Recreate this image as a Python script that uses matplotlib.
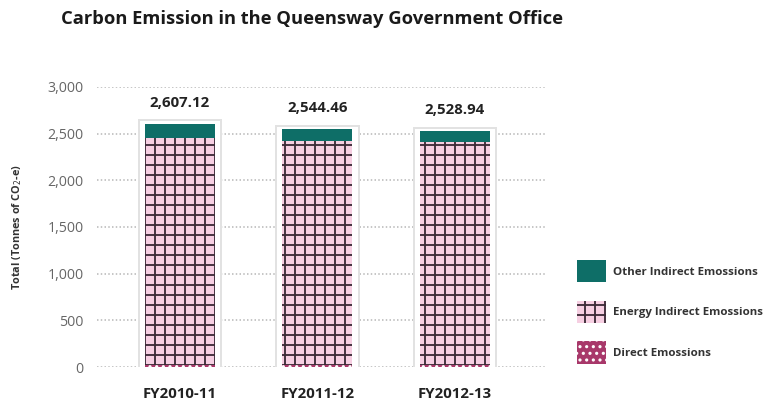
import matplotlib.pyplot as plt
import matplotlib.patches as mpatches
from matplotlib.ticker import FuncFormatter

years = ["FY2010-11", "FY2011-12", "FY2012-13"]
direct = [25, 25, 25]
energy_indirect = [2432, 2400, 2390]
totals = [2607.12, 2544.46, 2528.94]
other_indirect = [t - d - e for t, d, e in zip(totals, direct, energy_indirect)]
legend_labels = ["Other Indirect Emossions", "Energy Indirect Emossions", "Direct Emossions"]

TEAL = "#0e6e67"
PINK = "#f6cfe2"
GRIDC = "#3b2a36"
DIRECT = "#a8386a"

plt.rcParams['font.family'] = ['Open Sans', 'DejaVu Sans']
plt.rcParams['hatch.linewidth'] = 1.1

fig = plt.figure(figsize=(776 / 120, 403 / 120), dpi=120)
ax = fig.add_axes([0.125, 0.0893, 0.577, 0.695])

x = list(range(len(years)))

# white framing box behind each bar
ax.bar(x, [t + 70 for t in totals], width=0.6, bottom=-35, color="white",
       edgecolor="#e2e2e2", linewidth=1.2, zorder=2)

ax.bar(x, direct, width=0.51, color=DIRECT, edgecolor="white", hatch="...",
       linewidth=0, zorder=3)
ax.bar(x, energy_indirect, width=0.51, bottom=direct, color=PINK,
       edgecolor=GRIDC, hatch="++", linewidth=0, zorder=3)
bottoms = [d + e for d, e in zip(direct, energy_indirect)]
ax.bar(x, other_indirect, width=0.51, bottom=bottoms, color=TEAL,
       linewidth=0, zorder=3)

for xi, t in zip(x, totals):
    ax.text(xi, t + 150, f"{t:,.2f}", ha="center", va="bottom",
            fontsize=9, fontweight="bold", color="#222222")

ax.set_xlim(-0.604, 2.655)
ax.set_ylim(0, 3000)
ax.set_yticks(range(0, 3001, 500))
ax.yaxis.set_major_formatter(FuncFormatter(lambda v, p: f"{int(v):,}"))
ax.set_xticks(x)
ax.set_xticklabels(years, fontsize=9, fontweight="bold", color="#222222")
ax.tick_params(axis="x", length=0, pad=12)
ax.tick_params(axis="y", length=0, pad=8, labelsize=8.5, labelcolor="#666666")
ax.grid(axis="y", linestyle=(0, (1, 1.5)), color="#b5b5b5", linewidth=0.9, zorder=0)
ax.set_axisbelow(True)
for s in ax.spines.values():
    s.set_visible(False)

ax.set_ylabel("Total (Tonnes of CO$_2$-e)", fontsize=6.5, fontweight="bold",
              color="#333333", labelpad=14)

fig.suptitle("Carbon Emission in the Queensway Government Office", x=0.078,
             ha="left", y=0.975, fontsize=11, fontweight="bold", color="#1a1a1a")

handles = [
    mpatches.Patch(facecolor=TEAL, linewidth=0),
    mpatches.Patch(facecolor=PINK, edgecolor=GRIDC, hatch="++", linewidth=0),
    mpatches.Patch(facecolor=DIRECT, edgecolor="white", hatch="...", linewidth=0),
]
leg = fig.legend(handles, legend_labels, loc="center left",
                 bbox_to_anchor=(0.733, 0.226), frameon=False,
                 prop={"size": 6.9, "weight": "bold"}, handlelength=2.5,
                 handleheight=2.6, labelspacing=1.6, handletextpad=0.6,
                 borderpad=0.2)
for t in leg.get_texts():
    t.set_color("#333333")

fig.savefig("out.png", dpi=120)
